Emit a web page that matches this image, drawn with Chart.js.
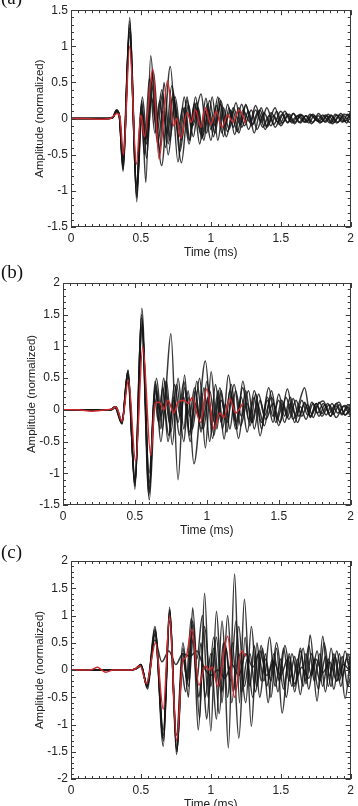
<!DOCTYPE html>
<html lang="en">
<head>
<meta charset="UTF-8">
<title>Normalized amplitude traces</title>
<script src="https://cdn.jsdelivr.net/npm/chart.js"></script>
<style>
    body {
        margin: 0;
        background: #fff;
        width: 358px;
        height: 806px;
        overflow: hidden;
        position: relative;
    }
    .panel {
        position: absolute;
        left: 0;
        width: 358px;
    }
</style>
</head>
<body>

<div class="panel" style="top:0;height:262px"><canvas id="chartA" width="358" height="262"></canvas></div>
<div class="panel" style="top:262px;height:278px"><canvas id="chartB" width="358" height="278"></canvas></div>
<div class="panel" style="top:540px;height:266px"><canvas id="chartC" width="358" height="266"></canvas></div>

<script>
// tick labels
const timeTicks = [0, 0.5, 1, 1.5, 2];
const ampTicksA = [-1.5, -1, -0.5, 0, 0.5, 1, 1.5];
const ampTicksB = [-1.5, -1, -0.5, 0, 0.5, 1, 1.5, 2];
const ampTicksC = [-2, -1.5, -1, -0.5, 0, 0.5, 1, 1.5, 2];

// panel (a): [time ms, amplitude] read at peaks / troughs
const redA = [[0,0],[0.12,0],[0.2,-0.01],[0.28,0],[0.33,0.07],[0.35,0.02],[0.375,-0.5],[0.42,1.0],[0.467,-0.63],[0.5,0.05],[0.525,-0.25],[0.585,0.69],[0.63,-0.56],[0.69,0.52],[0.735,-0.1],[0.755,0.0],[0.785,-0.27],[0.83,0.08],[0.86,-0.05],[0.89,0.12],[0.93,-0.12],[0.96,0.15],[1.0,-0.08],[1.04,0.1],[1.08,-0.12],[1.12,0.05],[1.16,-0.05],[1.2,0.12],[1.25,-0.06]];
const blackA1 = [[0,0],[0.26,0],[0.3,0.02],[0.325,0.12],[0.345,0.05],[0.372,-0.73],[0.42,1.4],[0.47,-1.15],[0.505,0.2],[0.535,-0.88],[0.57,0.87],[0.615,-0.2],[0.655,0.35],[0.695,-0.35],[0.73,0.3],[0.77,-0.25],[0.81,0.3],[0.85,-0.3],[0.885,0.22],[0.925,-0.2],[0.965,0.28],[1.0,-0.15],[1.04,0.18],[1.08,-0.2],[1.12,0.2],[1.16,-0.12],[1.2,0.15],[1.24,-0.1],[1.29,0.12],[1.33,-0.15],[1.38,0.08],[1.43,-0.1],[1.47,0.1],[1.51,-0.06],[1.56,0.06],[1.6,-0.05],[1.65,0.05],[1.7,-0.06],[1.74,0.04],[1.79,-0.05],[1.84,0.06],[1.88,-0.05],[1.93,0.07],[1.97,-0.06],[2,0.04]];
const blackA2 = [[0,0],[0.26,0],[0.3,0.02],[0.327,0.11],[0.347,0.04],[0.373,-0.65],[0.421,1.3],[0.47,-1.0],[0.51,0.1],[0.54,-0.35],[0.58,0.6],[0.648,-0.65],[0.71,0.72],[0.765,-0.6],[0.81,0.15],[0.845,-0.3],[0.88,0.2],[0.92,-0.35],[0.96,0.1],[1.0,-0.3],[1.05,0.3],[1.09,-0.25],[1.13,0.15],[1.17,-0.22],[1.22,0.2],[1.27,-0.15],[1.32,0.12],[1.36,-0.05],[1.4,0.15],[1.45,-0.08],[1.5,0.1],[1.55,-0.06],[1.59,0.07],[1.63,-0.05],[1.68,0.04],[1.72,-0.07],[1.77,0.04],[1.81,-0.04],[1.86,0.05],[1.9,-0.06],[1.95,0.04],[1.99,-0.05],[2,-0.04]];
const blackA3 = [[0,0],[0.27,0],[0.3,0.02],[0.325,0.1],[0.345,0.04],[0.37,-0.6],[0.419,1.25],[0.47,-1.1],[0.5,0.15],[0.525,-0.5],[0.56,0.55],[0.6,-0.2],[0.635,0.25],[0.675,-0.4],[0.72,0.45],[0.79,-0.61],[0.84,0.2],[0.87,-0.1],[0.93,0.34],[0.97,-0.2],[1.01,0.3],[1.05,-0.3],[1.09,0.15],[1.13,-0.15],[1.18,0.22],[1.22,-0.12],[1.27,0.1],[1.31,-0.2],[1.36,0.15],[1.4,-0.1],[1.46,0.15],[1.5,-0.1],[1.55,0.05],[1.6,-0.07],[1.64,0.06],[1.69,-0.04],[1.73,0.06],[1.78,-0.06],[1.83,0.04],[1.87,-0.07],[1.92,0.05],[1.96,-0.04],[2,0.1]];
const blackA4 = [[0,0],[0.26,0],[0.3,0.02],[0.326,0.12],[0.346,0.05],[0.374,-0.7],[0.42,1.35],[0.468,-1.05],[0.51,0.3],[0.545,-0.3],[0.59,0.65],[0.635,-0.45],[0.665,0.5],[0.705,-0.3],[0.745,0.2],[0.78,-0.45],[0.83,0.25],[0.875,-0.25],[0.91,0.15],[0.95,-0.3],[0.99,0.25],[1.03,-0.1],[1.07,0.2],[1.11,-0.25],[1.16,0.1],[1.2,-0.2],[1.25,0.2],[1.29,-0.1],[1.34,0.1],[1.39,-0.15],[1.43,0.08],[1.48,-0.05],[1.53,0.1],[1.57,-0.04],[1.62,0.04],[1.67,-0.05],[1.71,0.06],[1.76,-0.03],[1.8,0.05],[1.85,-0.06],[1.89,0.06],[1.94,-0.05],[1.98,0.06],[2,0.02]];
const blackA5 = [[0,0],[0.27,0],[0.3,0.01],[0.325,0.09],[0.345,0.03],[0.372,-0.55],[0.42,1.15],[0.47,-0.95],[0.5,0.0],[0.53,-0.3],[0.575,0.5],[0.62,-0.35],[0.655,0.1],[0.69,-0.2],[0.73,0.35],[0.77,-0.1],[0.8,0.15],[0.845,-0.35],[0.89,0.3],[0.935,-0.28],[0.975,0.2],[1.02,-0.25],[1.06,0.28],[1.1,-0.1],[1.14,0.12],[1.19,-0.18],[1.23,0.12],[1.28,-0.05],[1.32,0.18],[1.37,-0.12],[1.42,0.05],[1.46,-0.12],[1.51,0.06],[1.55,-0.05],[1.59,0.07],[1.64,-0.06],[1.68,0.04],[1.73,-0.05],[1.77,0.07],[1.82,-0.05],[1.86,0.04],[1.91,-0.05],[1.95,0.06],[2,0.03]];
const blackA6 = [[0,0],[0.26,0],[0.3,0.02],[0.325,0.11],[0.345,0.04],[0.371,-0.68],[0.418,1.2],[0.469,-0.9],[0.505,0.25],[0.54,-0.55],[0.575,0.3],[0.61,-0.1],[0.65,0.4],[0.695,-0.5],[0.745,0.3],[0.79,-0.3],[0.83,0.3],[0.86,-0.15],[0.9,0.22],[0.94,-0.25],[0.985,0.12],[1.03,-0.2],[1.07,0.25],[1.12,-0.18],[1.16,0.15],[1.21,-0.08],[1.25,0.18],[1.3,-0.08],[1.35,0.12],[1.4,-0.12],[1.45,0.04],[1.49,-0.08],[1.54,0.07],[1.58,-0.06],[1.63,0.05],[1.68,-0.05],[1.72,0.05],[1.77,-0.04],[1.82,0.05],[1.86,-0.06],[1.9,0.05],[1.95,-0.04],[2,0.05]];

// panel (b)
const redB = [[0,0],[0.1,0],[0.2,-0.02],[0.3,0],[0.345,0.02],[0.365,0.05],[0.38,0.0],[0.41,-0.18],[0.455,0.47],[0.505,-0.82],[0.555,1.0],[0.61,-0.72],[0.64,0.1],[0.67,0.12],[0.7,0.0],[0.73,0.15],[0.77,-0.05],[0.8,0.12],[0.84,0.15],[0.87,0.1],[0.9,0.2],[0.93,-0.05],[0.955,-0.2],[1.0,0.33],[1.05,-0.3],[1.09,-0.05],[1.12,-0.12],[1.16,0.18],[1.2,-0.05],[1.25,0.1]];
const blackB1 = [[0,0],[0.33,0],[0.36,0.04],[0.41,-0.22],[0.452,0.63],[0.5,-1.25],[0.548,1.6],[0.6,-1.42],[0.645,0.3],[0.68,-0.5],[0.715,0.3],[0.75,1.2],[0.8,-1.1],[0.845,0.55],[0.88,-0.4],[0.92,0.3],[0.96,-0.35],[1.0,0.45],[1.04,-0.2],[1.08,0.3],[1.12,-0.46],[1.16,0.3],[1.2,-0.2],[1.25,0.35],[1.29,-0.15],[1.33,0.2],[1.37,-0.41],[1.42,0.2],[1.46,-0.1],[1.5,0.15],[1.54,-0.2],[1.58,0.1],[1.62,-0.1],[1.66,0.15],[1.7,-0.08],[1.74,0.1],[1.78,-0.1],[1.82,0.08],[1.86,-0.1],[1.9,0.06],[1.94,-0.08],[1.98,0.05],[2,0.0]];
const blackB2 = [[0,0],[0.33,0],[0.365,0.05],[0.41,-0.2],[0.45,0.6],[0.5,-1.2],[0.545,1.45],[0.6,-1.3],[0.64,0.4],[0.675,-0.3],[0.71,0.45],[0.75,-0.35],[0.79,0.4],[0.84,-0.5],[0.87,0.2],[0.91,-0.85],[0.99,0.77],[1.04,-0.45],[1.08,0.2],[1.11,-0.3],[1.15,0.55],[1.2,-0.3],[1.24,0.2],[1.28,-0.35],[1.33,0.3],[1.38,-0.2],[1.43,0.35],[1.48,-0.2],[1.52,0.15],[1.56,-0.12],[1.6,0.18],[1.64,-0.1],[1.68,0.12],[1.72,-0.12],[1.76,0.1],[1.8,-0.06],[1.84,0.1],[1.88,-0.07],[1.92,0.08],[1.96,-0.08],[2,0.05]];
const blackB3 = [[0,0],[0.33,0],[0.36,0.05],[0.41,-0.18],[0.452,0.55],[0.502,-1.15],[0.55,1.35],[0.6,-1.15],[0.64,0.45],[0.68,-0.1],[0.7,0.1],[0.735,-0.4],[0.775,0.4],[0.815,-0.1],[0.84,0.2],[0.885,-0.5],[0.93,0.45],[0.975,-0.3],[1.02,0.3],[1.06,-0.25],[1.1,0.15],[1.14,-0.2],[1.19,0.4],[1.235,-0.25],[1.28,0.1],[1.32,-0.2],[1.36,0.25],[1.4,-0.1],[1.45,0.2],[1.5,-0.25],[1.55,0.2],[1.6,-0.15],[1.64,0.1],[1.68,0.35],[1.72,-0.1],[1.76,0.05],[1.81,0.14],[1.85,-0.05],[1.88,0.05],[1.92,0.12],[1.96,-0.08],[2,0.0]];
const blackB4 = [[0,0],[0.34,0],[0.37,0.05],[0.41,-0.2],[0.45,0.5],[0.5,-1.1],[0.548,1.3],[0.598,-1.0],[0.65,0.5],[0.69,-0.3],[0.72,0.45],[0.76,-0.55],[0.8,0.5],[0.84,-0.3],[0.87,0.3],[0.9,-0.3],[0.95,0.5],[0.99,-0.6],[1.03,0.6],[1.07,-0.3],[1.1,0.3],[1.14,-0.35],[1.17,0.25],[1.21,-0.3],[1.25,0.45],[1.3,-0.25],[1.34,0.25],[1.38,-0.3],[1.42,0.15],[1.46,-0.2],[1.5,0.25],[1.54,-0.1],[1.58,0.2],[1.63,-0.2],[1.68,0.1],[1.72,-0.1],[1.76,0.1],[1.8,-0.1],[1.85,0.08],[1.9,-0.12],[1.95,0.06],[2,-0.1]];
const blackB5 = [[0,0],[0.33,0],[0.36,0.05],[0.41,-0.22],[0.453,0.62],[0.5,-1.2],[0.546,1.5],[0.597,-1.35],[0.635,0.2],[0.665,-0.2],[0.7,0.5],[0.74,-0.2],[0.77,0.2],[0.81,-0.4],[0.845,0.35],[0.88,-0.1],[0.915,0.35],[0.96,-0.3],[1.01,0.2],[1.05,-0.4],[1.09,0.35],[1.13,-0.1],[1.17,0.4],[1.22,-0.45],[1.27,0.3],[1.31,-0.2],[1.35,0.1],[1.4,-0.25],[1.45,0.3],[1.49,-0.15],[1.53,0.1],[1.57,-0.15],[1.62,0.15],[1.66,-0.1],[1.7,0.08],[1.74,-0.12],[1.78,0.12],[1.83,-0.08],[1.87,0.1],[1.91,-0.05],[1.96,0.07],[2,-0.05]];
const blackB6 = [[0,0],[0.33,0],[0.365,0.04],[0.41,-0.18],[0.45,0.58],[0.5,-1.15],[0.55,1.4],[0.6,-1.25],[0.64,0.35],[0.67,0.0],[0.695,0.35],[0.73,-0.5],[0.77,0.15],[0.8,-0.2],[0.84,0.45],[0.88,-0.35],[0.92,0.1],[0.95,-0.15],[0.98,0.35],[1.02,-0.5],[1.06,0.4],[1.1,-0.2],[1.13,0.1],[1.16,-0.3],[1.2,0.3],[1.24,-0.1],[1.29,0.3],[1.33,-0.3],[1.37,0.15],[1.41,-0.15],[1.46,0.1],[1.51,-0.2],[1.56,0.33],[1.61,-0.2],[1.65,0.05],[1.69,-0.15],[1.73,0.12],[1.77,-0.05],[1.81,0.1],[1.86,-0.1],[1.9,0.1],[1.94,-0.06],[1.98,0.08],[2,0.05]];

// panel (c)
const redC = [[0,0],[0.1,0],[0.15,0.01],[0.19,0.05],[0.22,0.0],[0.25,-0.04],[0.3,0.0],[0.4,0.0],[0.45,0.01],[0.495,0.08],[0.54,-0.25],[0.605,0.5],[0.66,-0.72],[0.705,1.0],[0.755,-1.3],[0.8,0.18],[0.82,0.22],[0.865,0.75],[0.915,-0.28],[0.96,0.08],[0.99,0.0],[1.01,0.06],[1.05,-0.3],[1.12,0.62],[1.17,-0.5],[1.22,0.35],[1.25,0.25]];
const blackC1 = [[0,0],[0.42,0],[0.46,0.02],[0.5,0.1],[0.545,-0.3],[0.6,0.8],[0.66,-1.4],[0.705,1.15],[0.755,-1.55],[0.8,0.3],[0.83,-0.2],[0.87,0.9],[0.915,-0.5],[0.94,0.0],[0.97,-0.9],[1.02,0.6],[1.06,-0.3],[1.09,0.5],[1.125,-1.43],[1.17,1.76],[1.205,-0.6],[1.24,1.3],[1.29,-1.03],[1.33,0.5],[1.36,-0.2],[1.39,0.3],[1.43,-0.5],[1.47,0.4],[1.51,-0.79],[1.56,0.3],[1.6,-0.3],[1.64,0.4],[1.68,-0.2],[1.71,0.64],[1.76,-0.57],[1.8,0.62],[1.84,-0.3],[1.88,0.3],[1.92,-0.2],[1.96,0.35],[2,-0.1]];
const blackC2 = [[0,0],[0.42,0],[0.465,0.02],[0.5,0.08],[0.545,-0.3],[0.605,0.7],[0.66,-1.2],[0.707,1.1],[0.757,-1.5],[0.8,0.4],[0.84,-0.5],[0.87,1.14],[0.92,-0.9],[0.955,1.41],[1.0,-1.12],[1.04,1.08],[1.08,-0.4],[1.11,0.4],[1.15,-0.6],[1.2,0.8],[1.24,-0.3],[1.28,0.3],[1.32,-0.4],[1.36,0.45],[1.4,-0.3],[1.44,0.2],[1.48,-0.4],[1.52,0.4],[1.56,-0.2],[1.6,0.25],[1.64,-0.45],[1.68,0.3],[1.72,-0.1],[1.76,0.35],[1.8,-0.3],[1.84,0.2],[1.88,-0.35],[1.92,0.3],[1.96,-0.52],[2,0.3]];
const blackC3 = [[0,0],[0.42,0],[0.47,0.03],[0.5,0.08],[0.54,-0.25],[0.6,0.55],[0.65,0.15],[0.7,0.35],[0.75,0.1],[0.8,0.3],[0.85,0.25],[0.9,0.35],[0.95,0.05],[1.0,-0.1],[1.05,0.0],[1.1,-0.15],[1.15,0.1],[1.2,-0.1],[1.25,0.3],[1.3,0.05],[1.35,0.35],[1.4,-0.1],[1.45,0.15],[1.5,-0.1],[1.55,0.2],[1.6,-0.25],[1.65,0.05],[1.7,-0.15],[1.75,0.2],[1.8,-0.05],[1.85,0.15],[1.9,-0.2],[1.95,0.1],[2,-0.05]];
const blackC4 = [[0,0],[0.43,0],[0.465,0.02],[0.5,0.1],[0.548,-0.35],[0.6,0.75],[0.662,-1.3],[0.706,1.05],[0.755,-1.45],[0.79,0.0],[0.82,-0.4],[0.86,0.95],[0.9,-0.2],[0.93,0.5],[0.96,-0.5],[1.0,0.3],[1.04,-0.9],[1.08,0.9],[1.12,-0.5],[1.155,0.5],[1.2,-1.25],[1.245,0.6],[1.28,-0.3],[1.31,0.45],[1.35,-0.5],[1.39,0.2],[1.43,-0.2],[1.47,0.5],[1.52,-0.35],[1.56,0.25],[1.6,-0.4],[1.64,0.35],[1.68,-0.25],[1.72,0.3],[1.77,-0.35],[1.81,0.5],[1.85,-0.1],[1.89,0.25],[1.93,-0.3],[1.97,0.2],[2,-0.1]];
const blackC5 = [[0,0],[0.42,0],[0.465,0.02],[0.5,0.08],[0.545,-0.28],[0.6,0.65],[0.66,-1.1],[0.705,0.9],[0.755,-1.2],[0.8,0.5],[0.84,-0.3],[0.875,0.6],[0.91,-1.1],[0.955,0.8],[1.0,-0.3],[1.04,0.6],[1.08,-0.6],[1.12,1.0],[1.16,-0.4],[1.2,0.3],[1.25,-0.6],[1.29,0.8],[1.33,-0.3],[1.37,0.4],[1.41,-0.6],[1.45,0.3],[1.49,-0.2],[1.53,0.45],[1.58,-0.3],[1.62,0.2],[1.66,-0.3],[1.7,0.45],[1.74,-0.2],[1.78,0.3],[1.82,-0.4],[1.86,0.4],[1.9,-0.2],[1.94,0.25],[1.98,-0.3],[2,-0.1]];
const blackC6 = [[0,0],[0.42,0],[0.465,0.03],[0.5,0.1],[0.545,-0.32],[0.6,0.72],[0.66,-1.25],[0.705,1.1],[0.757,-1.5],[0.8,0.2],[0.835,-0.2],[0.87,0.7],[0.9,0.2],[0.94,1.0],[0.98,-0.5],[1.02,0.4],[1.06,-0.8],[1.1,0.5],[1.14,-0.2],[1.18,0.9],[1.22,-0.4],[1.26,0.2],[1.3,-0.5],[1.34,0.3],[1.38,-0.2],[1.42,0.6],[1.46,-0.3],[1.5,0.2],[1.54,-0.5],[1.58,0.3],[1.62,-0.1],[1.66,0.4],[1.7,-0.35],[1.74,0.2],[1.78,-0.2],[1.82,0.25],[1.86,-0.3],[1.9,0.35],[1.94,-0.1],[1.98,0.3],[2,0.1]];

const framePlugin = {
    id: 'frame',
    afterDraw(chart, args, o) {
        const ctx = chart.ctx;
        const a = chart.chartArea;
        const sx = chart.scales.x, sy = chart.scales.y;
        const isMajor = (list, v) => list.some(t => Math.abs(t - v) < 1e-6);

        ctx.save();
        ctx.strokeStyle = '#3a3a3a';
        ctx.lineWidth = 1;
        ctx.beginPath();
        const nx = Math.round((sx.max - sx.min) / o.xMinor);
        for (let i = 0; i <= nx; i++) {
            const v = sx.min + i * o.xMinor;
            const len = isMajor(timeTicks, v) ? 5 : 3;
            const px = Math.round(sx.getPixelForValue(v)) + 0.5;
            ctx.moveTo(px, a.top); ctx.lineTo(px, a.top + len);
            ctx.moveTo(px, a.bottom); ctx.lineTo(px, a.bottom - len);
        }
        const ny = Math.round((sy.max - sy.min) / o.yMinor);
        for (let i = 0; i <= ny; i++) {
            const v = sy.min + i * o.yMinor;
            const len = isMajor(o.yMajor, v) ? 5 : 3;
            const py = Math.round(sy.getPixelForValue(v)) + 0.5;
            ctx.moveTo(a.left, py); ctx.lineTo(a.left + len, py);
            ctx.moveTo(a.right, py); ctx.lineTo(a.right - len, py);
        }
        ctx.stroke();
        ctx.strokeRect(Math.round(a.left) + 0.5, Math.round(a.top) + 0.5,
            Math.round(a.right - a.left) - 1, Math.round(a.bottom - a.top) - 1);

        ctx.fillStyle = '#222';
        ctx.font = '12px "Liberation Sans", Arial, sans-serif';
        ctx.textAlign = 'center';
        ctx.textBaseline = 'middle';
        ctx.fillText('Time (ms)', (a.left + a.right) / 2, a.bottom + 26);

        ctx.save();
        ctx.font = '11.5px "Liberation Sans", Arial, sans-serif';
        ctx.translate(o.yTitleX, (a.top + a.bottom) / 2);
        ctx.rotate(-Math.PI / 2);
        ctx.fillText('Amplitude (normalized)', 0, 0);
        ctx.restore();

        ctx.fillStyle = '#111';
        ctx.font = '19px "Liberation Serif", "DejaVu Serif", serif';
        ctx.textAlign = 'left';
        ctx.textBaseline = 'alphabetic';
        ctx.fillText(o.label, 1, o.labelY);
        ctx.restore();
    }
};

function makePanel(id, red, blacks, yTicks, axisWidth, padTop, padBottom, label, labelY) {
    const datasets = [{
        data: red,
        borderColor: '#cc2a2e',
        borderWidth: 1.5
    }].concat(blacks.map(d => ({
        data: d,
        borderColor: 'rgba(22,22,22,0.85)',
        borderWidth: 1.5
    })));
    datasets.forEach(d => {
        d.pointRadius = 0;
        d.cubicInterpolationMode = 'monotone';
        d.fill = false;
    });

    const tickFont = { family: '"Liberation Sans", Arial, sans-serif', size: 12 };
    return new Chart(document.getElementById(id), {
        type: 'line',
        data: { datasets: datasets },
        options: {
            responsive: false,
            animation: false,
            events: [],
            layout: { padding: { left: 0, right: 6, top: padTop, bottom: padBottom } },
            plugins: {
                legend: { display: false },
                tooltip: { enabled: false },
                frame: {
                    xMinor: 0.05, yMinor: 0.1, yMajor: yTicks,
                    yTitleX: axisWidth - 31, label: label, labelY: labelY
                }
            },
            scales: {
                x: {
                    type: 'linear',
                    min: 0, max: 2,
                    grid: { display: false, drawTicks: false },
                    border: { display: false },
                    afterBuildTicks: s => { s.ticks = timeTicks.map(v => ({ value: v })); },
                    afterFit: s => { s.height = 20; },
                    ticks: {
                        font: tickFont, color: '#222', padding: 4,
                        maxRotation: 0, autoSkip: false,
                        callback: v => String(v)
                    }
                },
                y: {
                    min: yTicks[0], max: yTicks[yTicks.length - 1],
                    grid: { display: false, drawTicks: false },
                    border: { display: false },
                    afterBuildTicks: s => { s.ticks = yTicks.map(v => ({ value: v })); },
                    afterFit: s => { s.width = axisWidth; },
                    ticks: {
                        font: tickFont, color: '#222', padding: 3,
                        autoSkip: false,
                        callback: v => String(v)
                    }
                }
            }
        },
        plugins: [framePlugin]
    });
}

makePanel('chartA', redA, [blackA1, blackA2, blackA3, blackA4, blackA5, blackA6],
    ampTicksA, 71, 7, 15, '(a)', 4);
makePanel('chartB', redB, [blackB1, blackB2, blackB3, blackB4, blackB5, blackB6],
    ampTicksB, 63, 21, 15, '(b)', 16);
makePanel('chartC', redC, [blackC1, blackC2, blackC3, blackC4, blackC5, blackC6],
    ampTicksC, 71, 21, 7, '(c)', 18);
</script>

</body>
</html>
